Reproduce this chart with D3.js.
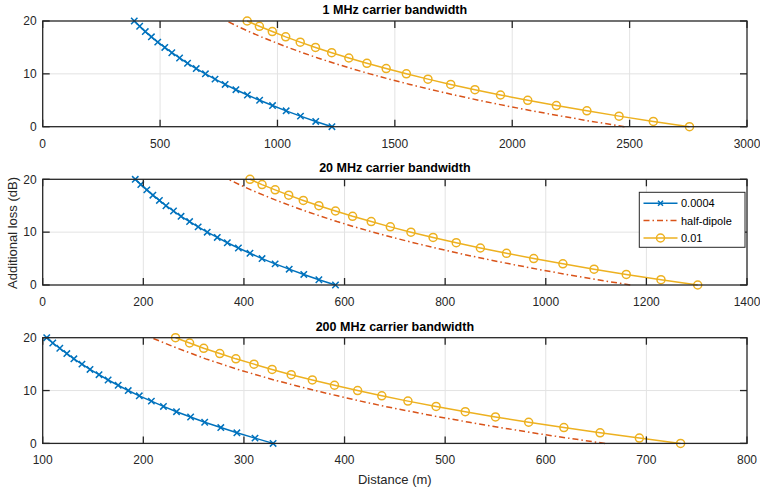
<!DOCTYPE html>
<html>
<head>
<meta charset="utf-8">
<script src="https://cdn.jsdelivr.net/npm/d3@7"></script>
<style>
  html, body { margin: 0; padding: 0; background: #fff; }
  svg { display: block; font-family: "Liberation Sans", Arial, Helvetica, sans-serif; }
</style>
</head>
<body>
<svg id="chart" width="760" height="493"></svg>
<script>
// Additional loss levels (dB) at which each distance was evaluated
const lossDB = [0, 1, 2, 3, 4, 5, 6, 7, 8, 9, 10, 11, 12, 13, 14, 15, 16, 17, 18, 19, 20];

// Series labels
const seriesNames = ["0.0004", "half-dipole", "0.01"];

// 1 MHz carrier bandwidth: distance (m) for each loss level
const dist1MHz_0004 = [1232, 1163, 1098, 1037, 979, 924, 872, 823, 777, 734, 693, 654, 617, 583, 550, 520, 490, 463, 437, 413, 390];
const dist1MHz_dipole = [2478, 2339, 2209, 2085, 1968, 1858, 1754, 1656, 1564, 1476, 1393, 1316, 1242, 1172, 1107, 1045, 987, 931, 879, 830, 784];
const dist1MHz_001 = [2755, 2601, 2455, 2318, 2188, 2066, 1950, 1841, 1738, 1641, 1549, 1463, 1381, 1304, 1231, 1162, 1097, 1035, 978, 923, 871];

// 20 MHz carrier bandwidth
const dist20MHz_0004 = [582, 549, 519, 490, 462, 436, 412, 389, 367, 347, 327, 309, 292, 275, 260, 245, 232, 219, 207, 195, 184];
const dist20MHz_dipole = [1168, 1103, 1041, 983, 928, 876, 827, 781, 737, 696, 657, 620, 585, 553, 522, 493, 465, 439, 414, 391, 369];
const dist20MHz_001 = [1302, 1229, 1160, 1096, 1034, 976, 922, 870, 822, 776, 732, 691, 653, 616, 582, 549, 518, 489, 462, 436, 412];

// 200 MHz carrier bandwidth
const dist200MHz_0004 = [329, 311, 293, 277, 261, 247, 233, 220, 208, 196, 185, 175, 165, 156, 147, 139, 131, 124, 117, 110, 104];
const dist200MHz_dipole = [659, 622, 587, 555, 524, 494, 467, 440, 416, 393, 371, 350, 330, 312, 294, 278, 262, 248, 234, 221, 208];
const dist200MHz_001 = [734, 693, 654, 618, 583, 550, 520, 491, 463, 437, 413, 390, 368, 347, 328, 310, 292, 276, 260, 246, 232];

// Axis ranges and ticks
const panelTitles = ["1 MHz carrier bandwidth", "20 MHz carrier bandwidth", "200 MHz carrier bandwidth"];
const xDomains = [[0, 3000], [0, 1400], [100, 800]];
const xTicks = [
  [0, 500, 1000, 1500, 2000, 2500, 3000],
  [0, 200, 400, 600, 800, 1000, 1200, 1400],
  [100, 200, 300, 400, 500, 600, 700, 800]
];
const yTicks = [0, 10, 20];

const panels = [
  { title: panelTitles[0], xDomain: xDomains[0], xTicks: xTicks[0], series: [dist1MHz_0004, dist1MHz_dipole, dist1MHz_001] },
  { title: panelTitles[1], xDomain: xDomains[1], xTicks: xTicks[1], series: [dist20MHz_0004, dist20MHz_dipole, dist20MHz_001], legend: true },
  { title: panelTitles[2], xDomain: xDomains[2], xTicks: xTicks[2], series: [dist200MHz_0004, dist200MHz_dipole, dist200MHz_001] }
];

const colors = ["#0072BD", "#D95319", "#EDB120"];
const axisColor = "#262626";
const gridColor = "#e3e3e3";

const svg = d3.select("#chart");
const left = 42.7, right = 747;
const panelTops = [21, 179.3, 337.7];
const panelH = 105.7;
const tickLen = 7;

panels.forEach((p, i) => {
  const top = panelTops[i];
  const bottom = top + panelH;
  const x = d3.scaleLinear().domain(p.xDomain).range([left, right]);
  const y = d3.scaleLinear().domain([0, 20]).range([bottom, top]);
  const g = svg.append("g");

  // grid
  g.append("g").selectAll("line.vx").data(p.xTicks.slice(1, -1)).join("line")
    .attr("x1", d => x(d)).attr("x2", d => x(d)).attr("y1", top).attr("y2", bottom)
    .attr("stroke", gridColor).attr("stroke-width", 1);
  g.append("g").selectAll("line.hy").data(yTicks.slice(1, -1)).join("line")
    .attr("x1", left).attr("x2", right).attr("y1", d => y(d)).attr("y2", d => y(d))
    .attr("stroke", gridColor).attr("stroke-width", 1);

  // series lines
  const line = d3.line().x(d => x(d[0])).y(d => y(d[1]));
  const clipId = "clip" + i;
  svg.append("clipPath").attr("id", clipId).append("rect")
    .attr("x", left - 6).attr("y", top - 6).attr("width", right - left + 12).attr("height", panelH + 12);
  const plot = g.append("g").attr("clip-path", `url(#${clipId})`);

  p.series.forEach((dist, s) => {
    const pts = dist.map((d, k) => [d, lossDB[k]]);
    plot.append("path").datum(pts)
      .attr("d", line)
      .attr("fill", "none")
      .attr("stroke", colors[s])
      .attr("stroke-width", 1.5)
      .attr("stroke-dasharray", s === 1 ? "6,3,1.5,3" : null);
    if (s === 0) {
      plot.append("g").selectAll("path").data(pts).join("path")
        .attr("d", d => {
          const cx = x(d[0]), cy = y(d[1]), r = 3.2;
          return `M${cx - r},${cy - r}L${cx + r},${cy + r}M${cx - r},${cy + r}L${cx + r},${cy - r}`;
        })
        .attr("stroke", colors[s]).attr("stroke-width", 1.5).attr("fill", "none");
    } else if (s === 2) {
      plot.append("g").selectAll("circle").data(pts).join("circle")
        .attr("cx", d => x(d[0])).attr("cy", d => y(d[1])).attr("r", 4)
        .attr("stroke", colors[s]).attr("stroke-width", 1.5).attr("fill", "none");
    }
  });

  // box
  g.append("rect").attr("x", left).attr("y", top).attr("width", right - left).attr("height", panelH)
    .attr("fill", "none").attr("stroke", axisColor).attr("stroke-width", 1.3);

  // ticks (inward, on all four sides)
  const tg = g.append("g").attr("stroke", axisColor).attr("stroke-width", 1.3);
  p.xTicks.forEach(t => {
    tg.append("line").attr("x1", x(t)).attr("x2", x(t)).attr("y1", bottom).attr("y2", bottom - tickLen);
    tg.append("line").attr("x1", x(t)).attr("x2", x(t)).attr("y1", top).attr("y2", top + tickLen);
  });
  yTicks.forEach(t => {
    tg.append("line").attr("x1", left).attr("x2", left + tickLen).attr("y1", y(t)).attr("y2", y(t));
    tg.append("line").attr("x1", right).attr("x2", right - tickLen).attr("y1", y(t)).attr("y2", y(t));
  });

  // tick labels
  g.append("g").selectAll("text").data(p.xTicks).join("text")
    .attr("x", d => x(d)).attr("y", bottom + 21)
    .attr("text-anchor", "middle").attr("font-size", 12).attr("fill", axisColor)
    .text(d => d);
  g.append("g").selectAll("text").data(yTicks).join("text")
    .attr("x", left - 6).attr("y", d => y(d) + 4.3)
    .attr("text-anchor", "end").attr("font-size", 12).attr("fill", axisColor)
    .text(d => d);

  // title
  g.append("text").attr("x", (left + right) / 2).attr("y", top - 7)
    .attr("text-anchor", "middle").attr("font-size", 12.5).attr("font-weight", "bold")
    .attr("fill", "#000").text(p.title);

  // legend
  if (p.legend) {
    const lx = 639.3, ly = 192.3, lw = 105.7, lh = 55;
    const lg = g.append("g");
    lg.append("rect").attr("x", lx).attr("y", ly).attr("width", lw).attr("height", lh)
      .attr("fill", "#fff").attr("stroke", axisColor).attr("stroke-width", 1);
    const rows = [203.3, 220.5, 238];
    seriesNames.forEach((name, s) => {
      const ry = rows[s];
      lg.append("line").attr("x1", 643.5).attr("x2", 677.5).attr("y1", ry).attr("y2", ry)
        .attr("stroke", colors[s]).attr("stroke-width", 1.5)
        .attr("stroke-dasharray", s === 1 ? "6,3,1.5,3" : null);
      const mx = 660.5;
      if (s === 0) {
        const r = 2.5;
        lg.append("path").attr("d", `M${mx - r},${ry - r}L${mx + r},${ry + r}M${mx - r},${ry + r}L${mx + r},${ry - r}`)
          .attr("stroke", colors[s]).attr("stroke-width", 1.5);
      } else if (s === 2) {
        lg.append("circle").attr("cx", mx).attr("cy", ry).attr("r", 4)
          .attr("stroke", colors[s]).attr("stroke-width", 1.5).attr("fill", "none");
      }
      lg.append("text").attr("x", 681).attr("y", ry + 4).attr("font-size", 11)
        .attr("fill", "#000").text(name);
    });
  }
});

// axis labels
svg.append("text").attr("x", 394.8).attr("y", 484)
  .attr("text-anchor", "middle").attr("font-size", 13).attr("fill", axisColor)
  .text("Distance (m)");
svg.append("text").attr("transform", "translate(17,233) rotate(-90)")
  .attr("text-anchor", "middle").attr("font-size", 13).attr("fill", axisColor)
  .text("Additional loss (dB)");
</script>
</body>
</html>
